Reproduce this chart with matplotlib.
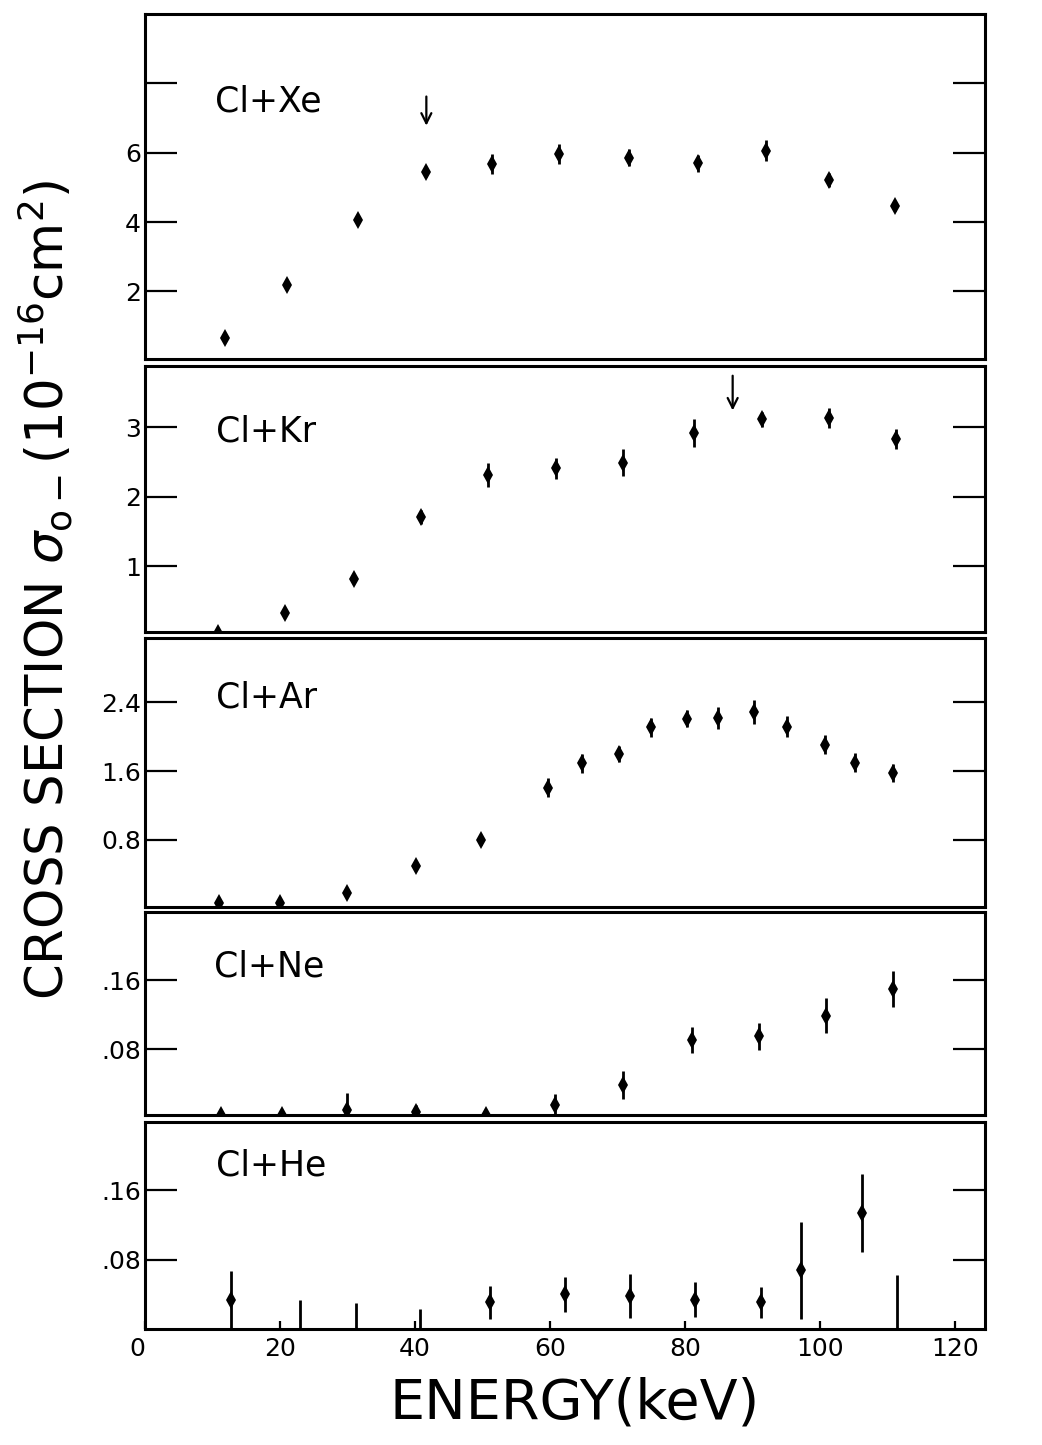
import matplotlib
matplotlib.use("Agg")
import matplotlib.pyplot as plt
import numpy as np

# ---------------- data ----------------
panel_names = ["Cl+Xe", "Cl+Kr", "Cl+Ar", "Cl+Ne", "Cl+He"]

xe_energy = [11.9, 21.0, 31.5, 41.7, 51.4, 61.4, 71.7, 81.9, 92.0, 101.4, 111.2]
xe_sigma = [0.66, 2.19, 4.07, 5.44, 5.67, 5.96, 5.86, 5.69, 6.06, 5.21, 4.46]
xe_err = [0.08, 0.08, 0.12, 0.15, 0.28, 0.28, 0.25, 0.25, 0.30, 0.20, 0.15]

kr_energy = [10.8, 20.7, 31.0, 40.9, 50.8, 60.9, 70.9, 81.3, 91.5, 101.4, 111.3]
kr_sigma = [0.04, 0.33, 0.81, 1.70, 2.31, 2.41, 2.49, 2.91, 3.11, 3.13, 2.83]
kr_err = [0.0, 0.05, 0.06, 0.10, 0.17, 0.15, 0.19, 0.20, 0.11, 0.14, 0.15]

ar_energy = [11.0, 20.0, 29.9, 40.2, 49.8, 59.8, 64.8, 70.3, 75.0, 80.3, 85.0,
             90.2, 95.2, 100.8, 105.2, 110.8]
ar_sigma = [0.07, 0.07, 0.18, 0.50, 0.80, 1.41, 1.69, 1.80, 2.11, 2.21, 2.22,
            2.29, 2.12, 1.91, 1.70, 1.58]
ar_err = [0.03, 0.03, 0.04, 0.05, 0.06, 0.11, 0.11, 0.09, 0.11, 0.10, 0.13,
          0.14, 0.12, 0.11, 0.11, 0.10]

ne_energy = [11.2, 20.3, 30.0, 40.1, 50.6, 60.8, 70.9, 81.0, 91.0, 100.9, 110.8]
ne_sigma = [0.004, 0.004, 0.010, 0.007, 0.004, 0.016, 0.039, 0.091, 0.095, 0.119, 0.150]
ne_err = [0.005, 0.005, 0.020, 0.009, 0.005, 0.012, 0.016, 0.015, 0.016, 0.020, 0.021]

he_energy = [12.8, 22.9, 31.2, 40.8, 51.1, 62.2, 71.9, 81.5, 91.3, 97.2, 106.3, 111.5]
he_sigma = [0.033, 0.0, 0.0, 0.0, 0.031, 0.040, 0.038, 0.034, 0.031, 0.068, 0.134, 0.0]
he_err = [0.034, 0.033, 0.030, 0.023, 0.019, 0.020, 0.025, 0.020, 0.018, 0.056, 0.045, 0.062]

# threshold arrows (energy, top, bottom) for Xe and Kr panels
xe_arrow = [41.7, 7.7, 6.7]
kr_arrow = [87.1, 3.78, 3.20]

y_ticks = [[2, 4, 6, 8], [1, 2, 3], [0.8, 1.6, 2.4], [0.08, 0.16], [0.08, 0.16]]
y_ticklabels = [["2", "4", "6", ""], ["1", "2", "3"], ["0.8", "1.6", "2.4"],
                [".08", ".16"], [".08", ".16"]]
y_limits = [(0.05, 10.0), (0.05, 3.88), (0.02, 3.15), (0.004, 0.239), (0.0, 0.239)]

x_ticks = [0, 20, 40, 60, 80, 100, 120]
x_ticklabels = ["0", "20", "40", "60", "80", "100", "120"]

# ---------------- figure ----------------
W, H = 1042, 1445
fig = plt.figure(figsize=(W / 100, H / 100), dpi=100)

boxes_px = [(14, 359), (366, 632), (638, 907), (912, 1115), (1122, 1329)]
left_px, right_px = 145, 985

series = [(xe_energy, xe_sigma, xe_err), (kr_energy, kr_sigma, kr_err),
          (ar_energy, ar_sigma, ar_err), (ne_energy, ne_sigma, ne_err),
          (he_energy, he_sigma, he_err)]
label_pos = [(0.083, 0.745), (0.085, 0.755), (0.084, 0.78), (0.082, 0.73), (0.084, 0.79)]

axes = []
for i, (top, bot) in enumerate(boxes_px):
    ax = fig.add_axes([left_px / W, 1 - bot / H, (right_px - left_px) / W, (bot - top) / H])
    axes.append(ax)
    e, s, err = series[i]
    e = np.array(e); s = np.array(s); err = np.array(err)
    ax.errorbar(e, s, yerr=err, fmt='none', ecolor='black', elinewidth=2.0, capsize=0)
    m = s > 0
    ax.plot(e[m], s[m], linestyle='none', marker='d', markersize=9,
            color='black', markeredgewidth=0)
    ax.set_xlim(0, 124.5)
    ax.set_ylim(*y_limits[i])
    ax.set_yticks(y_ticks[i])
    ax.set_yticklabels(y_ticklabels[i])
    ax.tick_params(axis='y', direction='in', length=23, width=1.6, left=True, right=True,
                   labelsize=18, pad=3)
    for sp in ax.spines.values():
        sp.set_linewidth(2.2)
    ax.text(label_pos[i][0], label_pos[i][1], panel_names[i], transform=ax.transAxes,
            fontsize=25, va='center', ha='left', family='DejaVu Sans')
    if i < 4:
        ax.set_xticks([])
    else:
        ax.set_xticks(x_ticks)
        ax.set_xticklabels(x_ticklabels)
        ax.tick_params(axis='x', direction='in', length=6, width=1.6, labelsize=18, pad=6)
        ax.get_xticklabels()[0].set_horizontalalignment('right')

for ax, arr in ((axes[0], xe_arrow), (axes[1], kr_arrow)):
    ax.annotate('', xy=(arr[0], arr[2]), xytext=(arr[0], arr[1]),
                arrowprops=dict(arrowstyle='->', color='black', lw=1.6,
                                mutation_scale=18))

fig.text(45 / W, 1 - 590 / H,
         r'CROSS SECTION $\sigma_{\mathrm{o}-}$(10$^{-16}$cm$^{2}$)',
         rotation=90, ha='center', va='center', fontsize=37,
         family='DejaVu Sans')
fig.text(575 / W, 1 - 1404 / H, 'ENERGY(keV)', ha='center', va='center',
         fontsize=40, family='DejaVu Sans')

fig.savefig('out.png', dpi=100)
